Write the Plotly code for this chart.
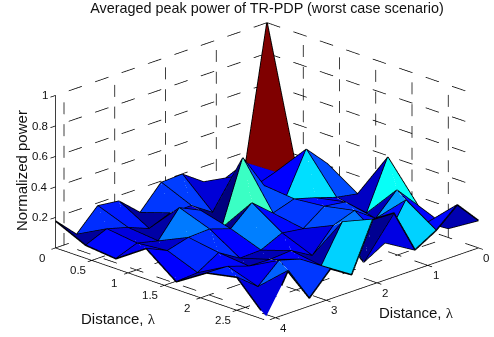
import numpy as np
import plotly.graph_objects as go

STEP = 5 / 12
x_vals = [i * STEP for i in range(8)]
y_vals = [j * STEP for j in range(11)]
x_ticks = [0, 0.5, 1, 1.5, 2, 2.5]
x_tick_labels = ["0", "0.5", "1", "1.5", "2", "2.5"]
y_ticks = [0, 1, 2, 3, 4]
y_tick_labels = ["0", "1", "2", "3", "4"]
z_ticks = [0.2, 0.4, 0.6, 0.8, 1.0]
z_tick_labels = ["0.2", "0.4", "0.6", "0.8", "1"]

power_x0 = [1.0, .13, .07, .098, .196, .19, .04, .163, .18, .04, .176]
power_x1 = [.08, .137, .09, .2, .013, .105, .105, .05, .105, .144, .085]
power_x2 = [.21, .353, .07, .21, .44, .026, .19, .255, .085, .118, .065]
power_x3 = [.08, .105, .15, .19, .144, .26, .137, .183, .176, .137, .2]
power_x4 = [.39, .07, .19, .21, .11, .13, .065, .06, .144, .06, .05]
power_x5 = [.14, .29, .15, .25, .2, .05, .13, .12, .124, .17, .176]
power_x6 = [.06, .144, .34, .11, .03, .34, .1, .19, .23, .105, .216]
power_x7 = [.18, .33, .21, .13, .42, .425, .11, .196, .052, .28, .013]
Z = np.array([power_x0, power_x1, power_x2, power_x3, power_x4, power_x5, power_x6, power_x7])

XMAX, YMAX = x_vals[-1], y_vals[-1]
ZMIN, ZMAX = Z.min(), Z.max()


def jet(v):
    t = (v - ZMIN) / (ZMAX - ZMIN)
    r = np.clip(min(4 * t - 1.5, -4 * t + 4.5), 0, 1)
    g = np.clip(min(4 * t - 0.5, -4 * t + 3.5), 0, 1)
    b = np.clip(min(4 * t + 0.5, -4 * t + 2.5), 0, 1)
    return f"rgb({int(r*255)},{int(g*255)},{int(b*255)})"


nx, ny = Z.shape
vx, vy, vz, ti, tj, tk, fc = [], [], [], [], [], [], []
for a in range(nx):
    for b in range(ny):
        vx.append(x_vals[a]); vy.append(y_vals[b]); vz.append(float(Z[a, b]))
vid = lambda a, b: a * ny + b
for a in range(nx - 1):
    for b in range(ny - 1):
        c = jet(Z[a, b])
        ti += [vid(a, b), vid(a, b)]
        tj += [vid(a + 1, b), vid(a + 1, b + 1)]
        tk += [vid(a + 1, b + 1), vid(a, b + 1)]
        fc += [c, c]

fig = go.Figure()
fig.add_trace(go.Mesh3d(x=vx, y=vy, z=vz, i=ti, j=tj, k=tk, facecolor=fc, flatshading=True,
                        lighting=dict(ambient=1, diffuse=0, specular=0, fresnel=0, roughness=1),
                        hoverinfo="skip", showscale=False))

ex, ey, ez = [], [], []
for a in range(nx):
    ex += [x_vals[a]] * ny + [None]; ey += y_vals + [None]; ez += [float(v) for v in Z[a]] + [None]
for b in range(ny):
    ex += x_vals + [None]; ey += [y_vals[b]] * nx + [None]; ez += [float(v) for v in Z[:, b]] + [None]
fig.add_trace(go.Scatter3d(x=ex, y=ey, z=ez, mode="lines", line=dict(color="black", width=3),
                           hoverinfo="skip", showlegend=False))


def seg(p, q, lx, ly, lz):
    lx += [p[0], q[0], None]; ly += [p[1], q[1], None]; lz += [p[2], q[2], None]


sx, sy, sz = [], [], []
for a in range(nx - 1):
    for b in range(ny - 1):
        seg((x_vals[a], y_vals[b], float(Z[a, b])), (x_vals[a + 1], y_vals[b + 1], float(Z[a + 1, b + 1])), sx, sy, sz)
fig.add_trace(go.Scatter3d(x=sx, y=sy, z=sz, mode="lines", line=dict(color="rgba(190,215,255,0.45)", width=1),
                           hoverinfo="skip", showlegend=False))


def dashed(p, q, n, lx, ly, lz, on=0.5):
    p, q = np.array(p, float), np.array(q, float)
    for k in range(n):
        a = p + (q - p) * k / n
        b = p + (q - p) * (k + on) / n
        seg(a.tolist(), b.tolist(), lx, ly, lz)


gx, gy, gz = [], [], []
for t in x_ticks:
    dashed((t, 0, 0), (t, 0, 1), 7, gx, gy, gz, on=.55)
    dashed((t, YMAX, 0), (t, 0, 0), 8, gx, gy, gz, on=.5)
for t in y_ticks:
    dashed((0, t, 0), (0, t, 1), 7, gx, gy, gz, on=.55)
    dashed((XMAX, t, 0), (0, t, 0), 8, gx, gy, gz, on=.5)
for t in z_ticks:
    dashed((0, 0, t), (XMAX, 0, t), 8, gx, gy, gz, on=.5)
    dashed((0, 0, t), (0, YMAX, t), 8, gx, gy, gz, on=.5)
fig.add_trace(go.Scatter3d(x=gx, y=gy, z=gz, mode="lines",
                           line=dict(color="#000000", width=1.5),
                           hoverinfo="skip", showlegend=False))

ax, ay, az = [], [], []
seg((0, YMAX, 0), (XMAX, YMAX, 0), ax, ay, az)
seg((XMAX, YMAX, 0), (XMAX, 0, 0), ax, ay, az)
seg((0, YMAX, 0), (0, YMAX, 1), ax, ay, az)
for t in x_ticks:
    seg((t, YMAX + .08, 0), (t, YMAX - .12, 0), ax, ay, az)
for t in y_ticks:
    seg((XMAX + .06, t, 0), (XMAX - .09, t, 0), ax, ay, az)
for t in z_ticks:
    seg((0, YMAX + .1, t), (0, YMAX, t), ax, ay, az)
fig.add_trace(go.Scatter3d(x=ax, y=ay, z=az, mode="lines", line=dict(color="black", width=1.5),
                           hoverinfo="skip", showlegend=False))

F = dict(family="Liberation Sans", size=11.5, color="#111111")
notes = []
for t, s in zip(x_ticks, x_tick_labels):
    notes.append(dict(x=t, y=YMAX, z=0, text=s, showarrow=False, xanchor="center", yanchor="middle",
                      xshift=-14, yshift=-10, font=F))
for t, s in zip(y_ticks, y_tick_labels):
    notes.append(dict(x=XMAX, y=t, z=0, text=s, showarrow=False, xanchor="center", yanchor="middle",
                      xshift=8, yshift=-10, font=F))
for t, s in zip(z_ticks, z_tick_labels):
    notes.append(dict(x=0, y=YMAX, z=t, text=s, showarrow=False, xanchor="right", yanchor="middle",
                      xshift=-6, yshift=0, font=F))

hidden = dict(visible=False)
PX, PY, PZ = .3, .3, .05
K = 1.775
AX = K * (XMAX + 2 * PX) / XMAX
AY = K * (YMAX + 2 * PY) / YMAX
AZ = K * 0.543 * (1 + 2 * PZ)
eye_len = 1.0
eye_dir = np.array([1, -1, 0.518])
eye = eye_dir / np.linalg.norm(eye_dir) * eye_len
CZ = 0.02

TF = dict(family="Liberation Sans", size=15, color="#111111")
LAMBDA = 'Distance, <span style="font-family:Liberation Serif">λ</span>'
fig.update_layout(
    width=494, height=337, margin=dict(l=0, r=0, t=0, b=0),
    paper_bgcolor="white", showlegend=False,
    title=dict(text="Averaged peak power of TR-PDP (worst case scenario)",
               x=267 / 494, y=1 - 8 / 337, xanchor="center", yanchor="middle",
               font=dict(family="Liberation Sans", size=14.4, color="#111111")),
    scene=dict(
        domain=dict(x=[40 / 494, 1], y=[0, 1]),
        xaxis=dict(range=[-PX, XMAX + PX], **hidden),
        yaxis=dict(range=[YMAX + PY, -PY], **hidden),
        zaxis=dict(range=[-PZ, 1 + PZ], **hidden),
        aspectmode="manual",
        aspectratio=dict(x=AX, y=AY, z=AZ),
        camera=dict(projection=dict(type="orthographic"),
                    eye=dict(x=float(eye[0]), y=float(eye[1]), z=float(eye[2]) + CZ),
                    center=dict(x=0, y=0, z=CZ), up=dict(x=0, y=0, z=1)),
        annotations=notes,
    ),
    annotations=[
        dict(xref="paper", yref="paper", x=21 / 494, y=1 - 171 / 337, text="Normalized power", textangle=-90,
             xanchor="center", yanchor="middle", showarrow=False, font=TF),
        dict(xref="paper", yref="paper", x=118 / 494, y=1 - 318 / 337, text=LAMBDA,
             xanchor="center", yanchor="middle", showarrow=False, font=TF),
        dict(xref="paper", yref="paper", x=416 / 494, y=1 - 312 / 337, text=LAMBDA,
             xanchor="center", yanchor="middle", showarrow=False, font=TF),
    ],
)
fig.write_html("out.html", config=dict(displayModeBar=False),
               post_script="document.body.style.margin='0';document.body.style.overflow='hidden';")
